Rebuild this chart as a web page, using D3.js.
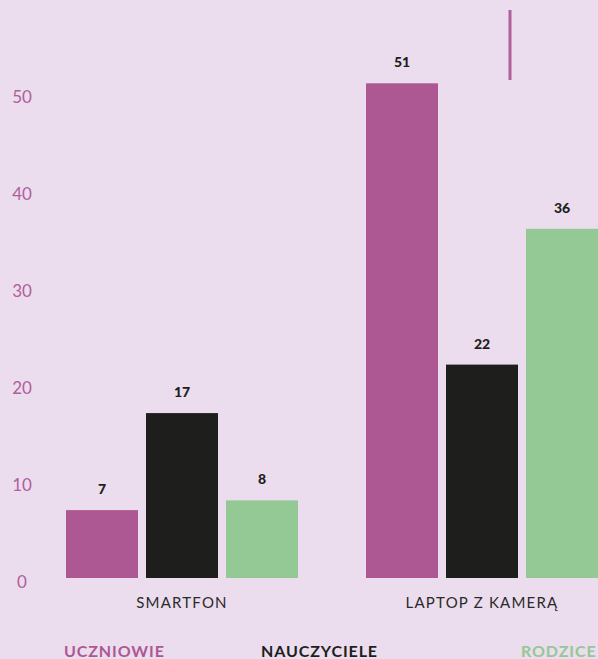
<!DOCTYPE html>
<html>
<head>
    <meta charset="utf-8">
    <script src="https://d3js.org/d3.v7.min.js"></script>
    <style>
      body { margin: 0; background: #ebdcee; }
      svg { display: block; font-family: "Lato", "Open Sans", sans-serif; }
    </style>
</head>
<body>
<script>
  var width = 598;
  var height = 659;

  // data
  var categories = ["SMARTFON", "LAPTOP Z KAMERĄ"];
  var seriesNames = ["UCZNIOWIE", "NAUCZYCIELE", "RODZICE"];
  var uczniowie = [7, 51];
  var nauczyciele = [17, 22];
  var rodzice = [8, 36];
  var yTicks = [0, 10, 20, 30, 40, 50];

  var colors = ["#ad5893", "#1e1e1c", "#94c894"];
  var series = [uczniowie, nauczyciele, rodzice];

  var svg = d3.select("body").append("svg")
    .attr("width", width)
    .attr("height", height);

  svg.append("rect")
    .attr("width", width).attr("height", height)
    .attr("fill", "#ebdcee");

  var x0 = d3.scaleBand().domain(categories).range([66, 598]).paddingInner(68 / 300);
  var x1 = d3.scaleBand().domain(seriesNames).range([0, x0.bandwidth()]).paddingInner(0.1);
  var y = d3.scaleLinear().domain([0, 60]).range([578, -4]);

  // y tick labels
  svg.selectAll(".ytick").data(yTicks).enter()
    .append("text")
    .attr("class", "ytick")
    .attr("x", 22)
    .attr("y", function(d) { return y(d) + 3; })
    .attr("text-anchor", "middle")
    .attr("dominant-baseline", "central")
    .attr("fill", "#b0609a")
    .style("font-size", "17px")
    .text(function(d) { return d; });

  // bars
  var rows = [];
  categories.forEach(function(c, i) {
    seriesNames.forEach(function(s, j) {
      rows.push({cat: c, name: s, value: series[j][i], color: colors[j]});
    });
  });

  svg.selectAll(".bar").data(rows).enter()
    .append("rect")
    .attr("class", "bar")
    .attr("x", function(d) { return x0(d.cat) + x1(d.name); })
    .attr("y", function(d) { return y(d.value); })
    .attr("width", x1.bandwidth())
    .attr("height", function(d) { return y(0) - y(d.value); })
    .attr("fill", function(d) { return d.color; });

  svg.selectAll(".val").data(rows).enter()
    .append("text")
    .attr("class", "val")
    .attr("x", function(d) { return x0(d.cat) + x1(d.name) + x1.bandwidth() / 2; })
    .attr("y", function(d) { return y(d.value) - 16; })
    .attr("text-anchor", "middle")
    .attr("fill", "#1e1e1c")
    .style("font-size", "14px")
    .style("font-weight", "900")
    .text(function(d) { return d.value; });

  // category labels
  svg.selectAll(".cat").data(categories).enter()
    .append("text")
    .attr("class", "cat")
    .attr("x", function(d) { return x0(d) + x0.bandwidth() / 2; })
    .attr("y", 608)
    .attr("text-anchor", "middle")
    .attr("fill", "#2a2a2a")
    .style("font-size", "15px")
    .style("letter-spacing", "1.2px")
    .text(function(d) { return d; });

  // legend
  var legendX = [64, 261, 521];
  svg.selectAll(".leg").data(seriesNames).enter()
    .append("text")
    .attr("class", "leg")
    .attr("x", function(d, i) { return legendX[i]; })
    .attr("y", 657)
    .attr("fill", function(d, i) { return colors[i]; })
    .style("font-size", "16px")
    .style("font-weight", "bold")
    .style("letter-spacing", "0.9px")
    .text(function(d) { return d; });

  // stray marker line at top
  svg.append("line")
    .attr("x1", 510).attr("x2", 510)
    .attr("y1", 10).attr("y2", 80)
    .attr("stroke", "#b0609a")
    .attr("stroke-width", 3);
</script>
</body>
</html>
